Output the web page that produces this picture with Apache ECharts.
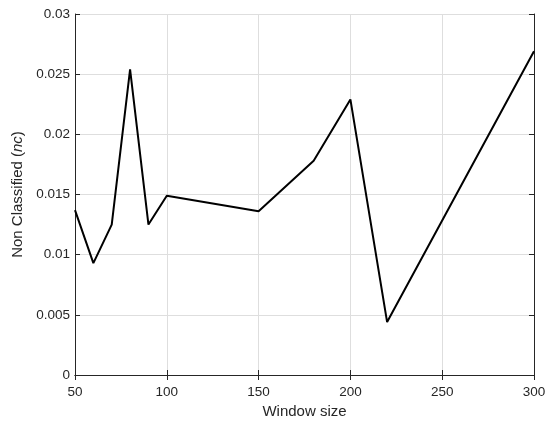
<!DOCTYPE html>
<html><head><meta charset="utf-8">
<script src="https://cdn.jsdelivr.net/npm/echarts@6/dist/echarts.min.js"></script>
<style>html,body{margin:0;padding:0;background:#fff}#c{width:550px;height:428px}</style>
</head><body><div id="c"></div>
<script>
const windowSizes = [50, 60, 70, 80, 90, 100, 150, 180, 200, 220, 300];
const ncValues = [0.0137, 0.0093, 0.0125, 0.0254, 0.0125, 0.0149, 0.0136, 0.0178, 0.0229, 0.0044, 0.0269];
const xTicks = [50, 100, 150, 200, 250, 300];
const yTicks = [0, 0.005, 0.01, 0.015, 0.02, 0.025, 0.03];

const font = 'Liberation Sans, Arial, Helvetica, sans-serif';
const chart = echarts.init(document.getElementById('c'));
const axisCommon = {
  axisLine: {show: true, lineStyle: {color: '#262626', width: 1}},
  axisTick: {show: true, inside: true, length: 5, lineStyle: {color: '#262626'}},
  splitLine: {show: true, lineStyle: {color: '#dedede', width: 1}},
  axisLabel: {color: '#262626', fontFamily: font, fontSize: 13.5}
};
chart.setOption({
  animation: false,
  backgroundColor: '#fff',
  grid: {left: 75, right: 16, top: 14, bottom: 53, containLabel: false},
  xAxis: [{
    type: 'value', min: 50, max: 300, interval: 50,
    name: 'Window size', nameLocation: 'middle', nameGap: 27,
    nameTextStyle: {color: '#262626', fontFamily: font, fontSize: 15},
    ...axisCommon,
    axisLabel: {...axisCommon.axisLabel, margin: 10, formatter: v => xTicks.includes(v) ? String(v) : ''}
  }, {
    type: 'value', position: 'top', min: 50, max: 300, interval: 50,
    axisLine: axisCommon.axisLine, axisTick: axisCommon.axisTick,
    axisLabel: {show: false}, splitLine: {show: false}
  }],
  yAxis: [{
    type: 'value', min: 0, max: 0.03, interval: 0.005,
    name: '{n|Non Classified (}{i|nc}{n|)}', nameLocation: 'middle', nameGap: 46,
    nameTextStyle: {color: '#262626', fontFamily: font, fontSize: 15,
      rich: {n: {fontFamily: font, fontSize: 15, color: '#262626'},
             i: {fontFamily: font, fontSize: 15, color: '#262626', fontStyle: 'italic'}}},
    ...axisCommon,
    axisLabel: {...axisCommon.axisLabel, margin: 5,
      formatter: v => { const t = yTicks.find(y => Math.abs(y - v) < 1e-9); return t === undefined ? '' : String(+t.toFixed(3)); }}
  }, {
    type: 'value', position: 'right', min: 0, max: 0.03, interval: 0.005,
    axisLine: axisCommon.axisLine, axisTick: axisCommon.axisTick,
    axisLabel: {show: false}, splitLine: {show: false}
  }],
  series: [{
    type: 'line',
    data: windowSizes.map((x, i) => [x, ncValues[i]]),
    showSymbol: false,
    lineStyle: {color: '#000', width: 2},
    itemStyle: {color: '#000'}
  }]
});
</script></body></html>
